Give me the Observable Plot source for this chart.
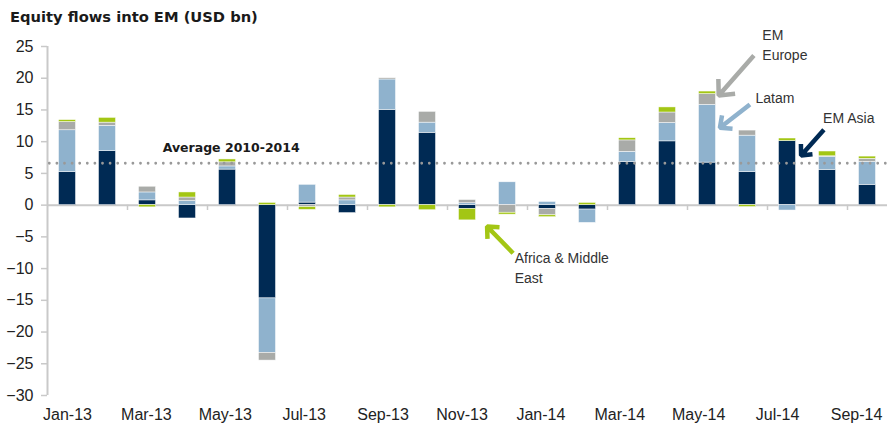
<!DOCTYPE html>
<html><head><meta charset="utf-8">
<script src="https://cdn.jsdelivr.net/npm/d3@7"></script>
<script src="https://cdn.jsdelivr.net/npm/@observablehq/plot@0.6"></script>
<style>
body{margin:0;background:#fff;}
#title{box-sizing:border-box;height:22px;overflow:visible;padding:6.6px 0 0 10px;font:bold 14.7px/20px "DejaVu Sans",sans-serif;color:#1a1a1a;white-space:nowrap;position:relative;z-index:1;}
#chart svg{display:block;}
</style></head><body>
<div id="title">Equity flows into EM (USD bn)</div>
<div id="chart"></div>
<script>
const months = ["Jan-13","Feb-13","Mar-13","Apr-13","May-13","Jun-13","Jul-13","Aug-13","Sep-13","Oct-13","Nov-13","Dec-13","Jan-14","Feb-14","Mar-14","Apr-14","May-14","Jun-14","Jul-14","Aug-14","Sep-14"];
const regions = ["EM Asia","Latam","EM Europe","Africa & Middle East"];
const colors = ["#002a54","#8fb2cd","#a9aba8","#a3c614"];
const emAsia   = [5.2, 8.5, 0.75, -2.1, 5.6, -14.7, 0.4, -1.25, 15.0, 11.4, -0.6, 0, -0.6, -0.7, 6.8, 10.05, 6.7, 5.2, 10.1, 5.55, 3.2];
const latam    = [6.6, 4.0, 1.25, 0.65, 0.5, -8.6, 2.8, 0.75, 4.8, 1.6, 0.3, 3.6, 0.5, -2.1, 1.6, 2.9, 9.1, 5.75, -0.85, 2.05, 3.6];
const emEurope = [1.3, 0.5, 0.9, 0.55, 0.65, -1.2, -0.3, 0.45, 0.2, 1.7, 0.5, -1.2, -1.0, 0, 1.8, 1.65, 1.7, 0.8, 0, 0.1, 0.5];
const africaME = [0.3, 0.75, -0.35, 0.8, 0.45, 0.35, -0.45, 0.4, -0.35, -0.8, -1.8, -0.3, -0.3, 0.35, 0.35, 0.8, 0.4, -0.3, 0.4, 0.75, 0.35];
const average = 6.6;
const averageLabel = "Average 2010-2014";
const yTicks = [-30,-25,-20,-15,-10,-5,0,5,10,15,20,25];
const xTickLabels = ["Jan-13","Mar-13","May-13","Jul-13","Sep-13","Nov-13","Jan-14","Mar-14","May-14","Jul-14","Sep-14"];

const series = [emAsia, latam, emEurope, africaME];
const rows = months.flatMap((m, i) => regions.map((r, k) => ({i, month: m, region: r, value: series[k][i]})));

// annotation callouts (data coordinates: x = month index, y = USD bn)
const callouts = [
  {region: "EM Europe", label: "EM\nEurope", tx: 17.87, ty: 22.87, x1: 17.66, y1: 23.58, x2: 16.78, y2: 17.27},
  {region: "Latam", label: "Latam", tx: 17.7, ty: 16.12, x1: 17.56, y1: 15.86, x2: 16.81, y2: 12.18},
  {region: "EM Asia", label: "EM Asia", tx: 19.39, ty: 12.91, x1: 19.41, y1: 11.87, x2: 18.84, y2: 7.82},
  {region: "Africa & Middle East", label: "Africa & Middle\nEast", tx: 11.68, ty: -12.2, x1: 11.64, y1: -7.58, x2: 10.99, y2: -3.37}
];

// category labels every two months (slightly compressed spacing as in the source)
const labelStep = 1.9725;
const labelTicks = xTickLabels.map((m, k) => 0.5 + k * labelStep);
const boundaryTicks = d3.range(2, 21, 2);

const chart = Plot.plot({
  width: 887,
  height: 406,
  marginTop: 24,
  marginBottom: 33,
  marginLeft: 47,
  marginRight: 0,
  style: {fontFamily: "'Liberation Sans', Arial, sans-serif", background: "transparent", overflow: "visible"},
  x: {type: "linear", domain: [0, 21], axis: null},
  y: {domain: [-30, 25], axis: null},
  color: {domain: regions, range: colors},
  marks: [
    Plot.ruleY([0], {stroke: "#c9c9c9", strokeWidth: 2}),
    Plot.ruleX(boundaryTicks, {y1: 0, y2: -0.85, stroke: "#c9c9c9", strokeWidth: 1.5}),
    Plot.ruleX([0], {y1: -30, y2: 25, stroke: "#c9c9c9", strokeWidth: 2}),
    Plot.axisY({ticks: yTicks, tickSize: 6, tickPadding: 8, stroke: "#c9c9c9", strokeWidth: 1.5, fill: "#222", fontSize: 16, label: null, anchor: "left"}),
    Plot.axisX({ticks: labelTicks, tickFormat: d => xTickLabels[Math.round((d - 0.5) / labelStep)], tickSize: 0, tickPadding: 13, fill: "#222", fontSize: 16, label: null, anchor: "bottom"}),
    Plot.rectY(rows, Plot.stackY({x1: "i", x2: d => d.i + 1, y: "value", fill: "region", order: regions, insetLeft: 11.5, insetRight: 11.5, stroke: "#ffffff", strokeWidth: 0.6, strokeOpacity: 0.8})),
    Plot.ruleY([average], {stroke: "#999", strokeWidth: 2.8, strokeDasharray: "0 7.6", strokeLinecap: "round", strokeDashoffset: -2.3}),
    Plot.text([averageLabel], {x: 2.88, y: 8.34, text: d => d, textAnchor: "start", lineAnchor: "bottom", fontFamily: "'DejaVu Sans', sans-serif", fontWeight: "bold", fontSize: 12.5, fill: "#1a1a1a"}),
    Plot.arrow(callouts, {x1: "x1", y1: "y1", x2: "x2", y2: "y2", stroke: "region", strokeWidth: 4.5, headLength: 5.5, headAngle: 85, strokeLinecap: "butt", strokeLinejoin: "miter"}),
    Plot.text(callouts, {x: "tx", y: "ty", text: "label", textAnchor: "start", lineAnchor: "bottom", lineHeight: 1.43, fontSize: 14, fill: "#333"})
  ]
});
document.getElementById("chart").appendChild(chart);
</script>
</body></html>
